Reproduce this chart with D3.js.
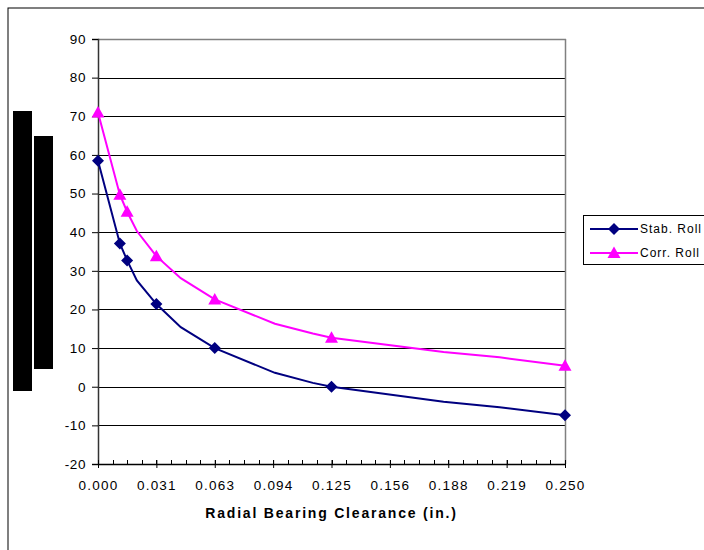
<!DOCTYPE html>
<html>
<head>
<meta charset="utf-8">
<script src="https://cdn.jsdelivr.net/npm/d3@7"></script>
<style>
html,body{margin:0;padding:0;background:#fff;}
svg{display:block;font-family:Arial,"Liberation Sans",sans-serif;}
</style>
</head>
<body>
<svg id="chart" width="704" height="550"></svg>
<script>
// ---- data ----
const clearance = [0, 0.0117, 0.0156, 0.0208, 0.03125, 0.0443, 0.0625, 0.0947, 0.115, 0.125, 0.185, 0.215, 0.25];
const stabRoll  = [58.5, 37.1, 32.7, 27.5, 21.4, 15.4, 10.0, 3.6, 1.0, 0.0, -3.9, -5.3, -7.4];
const corrRoll  = [71.0, 49.7, 45.3, 40.3, 33.8, 28.1, 22.6, 16.3, 13.8, 12.7, 9.0, 7.6, 5.4];
const marked    = [true, true, true, false, true, false, true, false, false, true, false, false, true];
const seriesNames = ["Stab. Roll", "Corr. Roll"];
const xTickValues = [0, 0.03125, 0.0625, 0.09375, 0.125, 0.15625, 0.1875, 0.21875, 0.25];
const xTickLabels = ["0.000","0.031","0.063","0.094","0.125","0.156","0.188","0.219","0.250"];
const yTickValues = [-20,-10,0,10,20,30,40,50,60,70,80,90];
const xTitle = "Radial Bearing Clearance (in.)";

// ---- layout ----
const svg = d3.select("#chart");
const L = 98, R = 565, T = 39, B = 464;
const x = d3.scaleLinear().domain([0, 0.25]).range([L, R]);
const y = d3.scaleLinear().domain([-20, 90]).range([B, T]);

// outer chart border
svg.append("rect").attr("x",8).attr("y",8).attr("width",720).attr("height",560)
  .attr("fill","#fff").attr("stroke","#000").attr("stroke-width",1);

// black blocks (obscured y-axis title)
svg.append("rect").attr("x",13).attr("y",111).attr("width",19).attr("height",280).attr("fill","#000");
svg.append("rect").attr("x",34).attr("y",136).attr("width",19).attr("height",233).attr("fill","#000");

// gridlines
svg.append("g").selectAll("line").data(yTickValues.filter(v => v > -20 && v < 90)).join("line")
  .attr("x1",L).attr("x2",R).attr("y1",d=>Math.round(y(d))+0.5).attr("y2",d=>Math.round(y(d))+0.5)
  .attr("stroke","#000").attr("stroke-width",1);

// plot border top/right (gray)
svg.append("line").attr("x1",L).attr("x2",R+1).attr("y1",T+0.5).attr("y2",T+0.5).attr("stroke","#808080").attr("stroke-width",1.5);
svg.append("line").attr("x1",R+0.5).attr("x2",R+0.5).attr("y1",T).attr("y2",B).attr("stroke","#808080").attr("stroke-width",1.5);

// y axis
const yAxis = d3.axisLeft(y).tickValues(yTickValues).tickSize(6).tickPadding(6).tickFormat(d => String(d));
const gy = svg.append("g").attr("transform",`translate(${L},0)`).call(yAxis);
gy.select(".domain").attr("stroke","#333").attr("stroke-width",1.5);
gy.selectAll(".tick line").attr("stroke","#000");
gy.selectAll(".tick text").attr("font-size",13.5).attr("fill","#000")
  .attr("font-family","Arial, 'Liberation Sans', sans-serif").attr("letter-spacing","0.6px");

// x axis minor ticks (inside)
const minor = d3.range(0, 33).map(i => i * 0.25 / 32);
svg.append("g").selectAll("line").data(minor).join("line")
  .attr("x1",d=>Math.round(x(d))+0.5).attr("x2",d=>Math.round(x(d))+0.5)
  .attr("y1",B-4).attr("y2",B).attr("stroke","#000");

// x axis
const xAxis = d3.axisBottom(x).tickValues(xTickValues).tickSizeInner(4).tickSizeOuter(0).tickPadding(12)
  .tickFormat((d,i) => xTickLabels[i]);
const gx = svg.append("g").attr("transform",`translate(0,${B})`).call(xAxis);
gx.select(".domain").attr("stroke","#000").attr("stroke-width",1.5);
gx.selectAll(".tick line").attr("y1",-4).attr("stroke","#000");
gx.selectAll(".tick text").attr("font-size",13.5).attr("fill","#000")
  .attr("font-family","Arial, 'Liberation Sans', sans-serif").attr("letter-spacing","1.2px");

// x title
svg.append("text").attr("x",(L+R)/2).attr("y",518).attr("text-anchor","middle")
  .attr("font-size",14).attr("font-weight","bold").attr("letter-spacing","1.8px").text(xTitle);

// series
const series = [
  {name: seriesNames[0], values: stabRoll, color: "#000080", shape: "diamond"},
  {name: seriesNames[1], values: corrRoll, color: "#FF00FF", shape: "triangle"}
];
const line = d3.line().x(d=>x(d[0])).y(d=>y(d[1]));
function markerPath(shape){
  if (shape === "diamond") return "M0,-6L6,0L0,6L-6,0Z";
  return "M0,-6.5L6.5,5L-6.5,5Z";
}
series.forEach(s => {
  const pts = clearance.map((c,i)=>[c, s.values[i]]);
  svg.append("path").attr("d", line(pts)).attr("fill","none").attr("stroke",s.color).attr("stroke-width",2);
  svg.append("g").selectAll("path").data(pts.filter((p,i)=>marked[i])).join("path")
    .attr("transform",d=>`translate(${x(d[0])},${y(d[1])})`)
    .attr("d", markerPath(s.shape)).attr("fill",s.color);
});

// legend
const lg = svg.append("g");
lg.append("rect").attr("x",583.5).attr("y",215.5).attr("width",130).attr("height",49)
  .attr("fill","#fff").attr("stroke","#000");
series.forEach((s,i) => {
  const yy = 229 + i*24;
  lg.append("line").attr("x1",590).attr("x2",638).attr("y1",yy).attr("y2",yy).attr("stroke",s.color).attr("stroke-width",2);
  lg.append("path").attr("transform",`translate(614,${yy})`).attr("d",markerPath(s.shape)).attr("fill",s.color);
  lg.append("text").attr("x",640).attr("y",yy+4).attr("font-size",12).attr("letter-spacing","1px").text(s.name);
});
</script>
</body>
</html>
